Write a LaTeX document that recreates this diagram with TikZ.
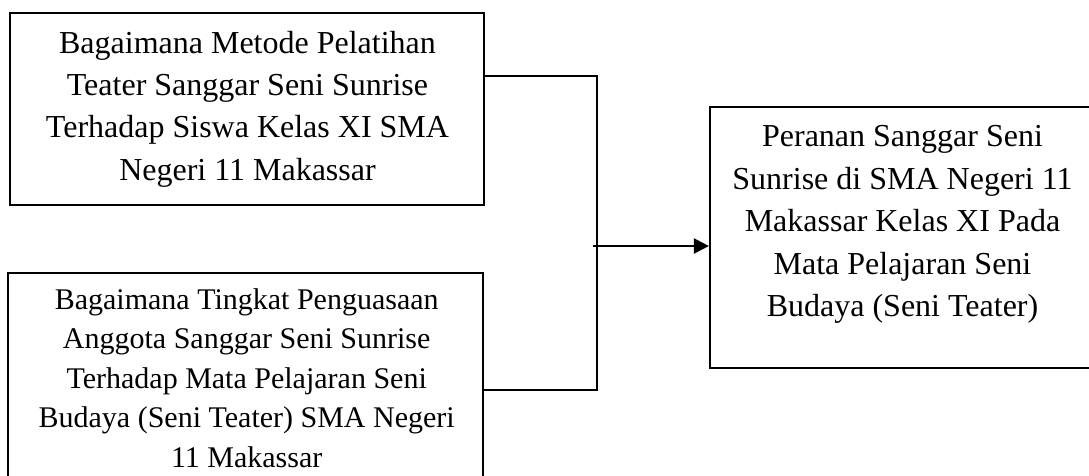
\documentclass[tikz,border=0pt]{standalone}
\usepackage{fontspec}
\setmainfont{Liberation Serif}
\usetikzlibrary{arrows.meta}
\begin{document}
\begin{tikzpicture}[x=1pt,y=-1pt,
  boxstyle/.style={draw=black, line width=2.2pt, rectangle, inner sep=0pt},
  txtbig/.style={align=center, inner sep=0pt, font=\fontsize{32}{42.3}\selectfont},
  txtsmall/.style={align=center, inner sep=0pt, font=\fontsize{30}{39.5}\selectfont},
  conn/.style={draw=black, line width=2.2pt}]
\useasboundingbox (0,0) rectangle (1089,475);
\fill[white] (0,0) rectangle (1089,475);
\node[boxstyle, minimum width=474pt, minimum height=192pt] (b1) at (247,109) {};
\node[txtbig] (t1) at (247.5,109) {Bagaimana Metode Pelatihan\\Teater Sanggar Seni Sunrise\\Terhadap Siswa Kelas XI SMA\\Negeri 11 Makassar};
\node[boxstyle, minimum width=475pt, minimum height=217pt] (b2) at (245.5,381.5) {};
\node[txtsmall] (t2) at (246.7,377.8) {Bagaimana Tingkat Penguasaan\\Anggota Sanggar Seni Sunrise\\Terhadap Mata Pelajaran Seni\\Budaya (Seni Teater) SMA Negeri\\11 Makassar};
\node[boxstyle, minimum width=385pt, minimum height=261pt] (b3) at (902.5,237.5) {};
\node[txtbig, font=\fontsize{32}{42.5}\selectfont] (t3) at (902.5,224.6) {Peranan Sanggar Seni\\Sunrise di SMA Negeri 11\\Makassar Kelas XI Pada\\Mata Pelajaran Seni\\Budaya (Seni Teater)};
\coordinate (jt) at (597,76);
\coordinate (jb) at (597,390);
\coordinate (jm) at (593,246);
\draw[conn] (b1.east |- jt) -- (jt) -- (jb) -- (b2.east |- jb);
\draw[conn, -{Triangle[length=15pt,width=15pt]}] (jm) -- (b3.west |- jm);
\end{tikzpicture}
\end{document}
